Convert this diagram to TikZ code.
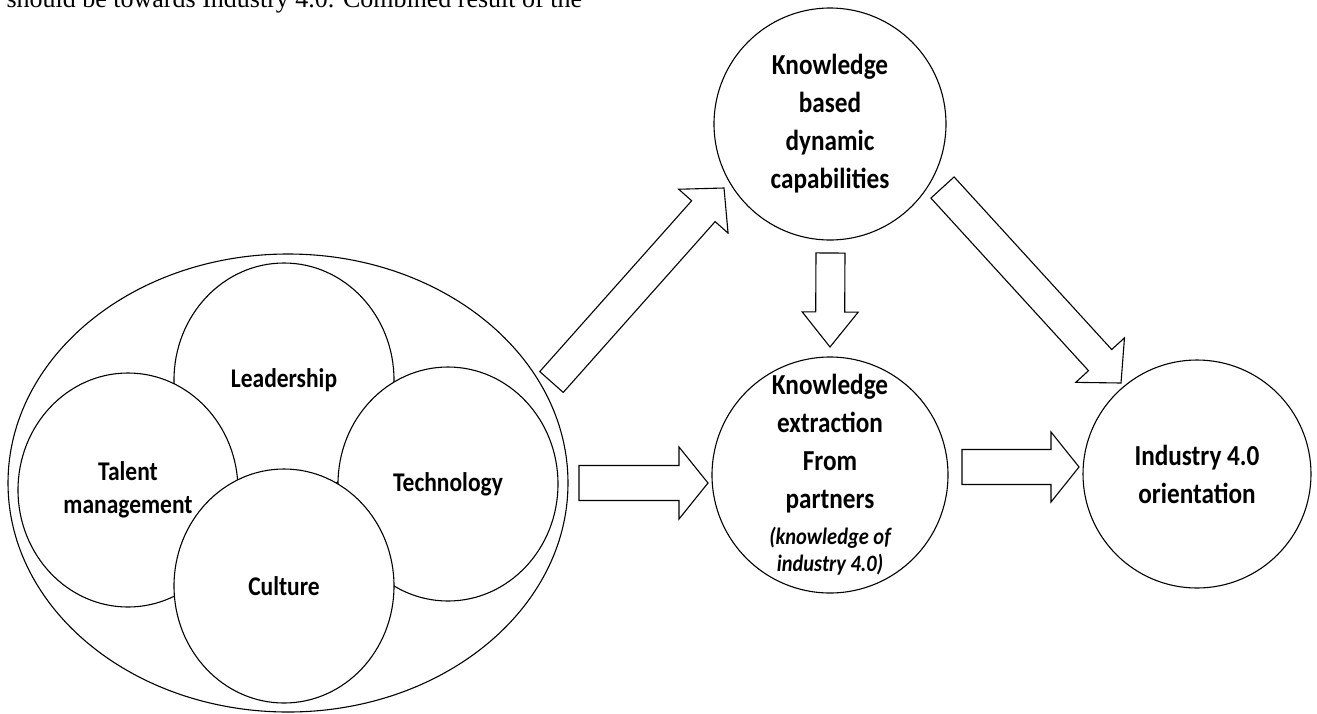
\documentclass[tikz,border=0pt]{standalone}
\usepackage{fontspec}
\setmainfont{Carlito}
\newfontfamily\labfont{Carlito}[FakeStretch=0.87]
\newfontfamily\serifff{Liberation Serif}
\usetikzlibrary{calc,shapes.geometric}
\tikzset{
  circ/.style={draw, circle, inner sep=0pt, align=center,
    font=\labfont\bfseries\fontsize{29}{38}\selectfont},
  innerc/.style={draw, ellipse, fill=white, inner sep=0pt,
    minimum width=220pt, minimum height=234pt, align=center,
    font=\labfont\bfseries\fontsize{27}{33}\selectfont},
  blockarr/.style={draw, fill=white, line join=miter},
}
% tail, tip, half shaft width, half head width, head length
\newcommand\blockarrow[5]{%
  \path ($(#2)!#5!(#1)$) coordinate (neck);
  \draw[blockarr] ($(#1)!#3!90:(#2)$) -- ($(neck)!#3!-90:(#1)$)
    -- ($(neck)!#4!-90:(#1)$) -- (#2) -- ($(neck)!#4!90:(#1)$)
    -- ($(neck)!#3!90:(#1)$) -- ($(#1)!#3!-90:(#2)$) -- cycle;
}
\begin{document}
\begin{tikzpicture}[x=1pt,y=-1pt,line width=1.1pt]
\useasboundingbox (0,0) rectangle (1317,713);
\clip (0,0) rectangle (1317,713);
\fill[white] (0,0) rectangle (1317,713);

\node[anchor=base west, inner sep=0pt, font=\serifff\fontsize{26}{30}\selectfont]
  (cap) at (6,7.5) {should be towards Industry 4.0. Combined result of the};

% left cluster
\node[draw, ellipse, minimum width=560pt, minimum height=458pt, inner sep=0pt] (org) at (288,483) {};
\node[innerc] (lead) at (284,380) {Leadership};
\node[innerc] (tal) at (128,490) {Talent\\management};
\node[innerc] (tech) at (448,484) {Technology};
\node[innerc] (cult) at (284,586) {Culture};

% right circles
\node[circ, minimum size=232pt] (kb) at (830,124) {Knowledge\\based\\dynamic\\capabilities};
\node[circ, minimum size=236pt] (ke) at (830,475) {Knowledge\\extraction\\From\\partners\\[-2pt]{\itshape\fontsize{23.5}{27}\selectfont (knowledge of}\\[-11pt]{\itshape\fontsize{23.5}{27}\selectfont industry 4.0)}};
\node[circ, minimum size=228pt] (io) at (1197,474) {Industry 4.0\\orientation};

% arrows
\coordinate (a1t) at (551.5,382); \coordinate (a1h) at (724,188);
\coordinate (a2t) at (579,483);   \coordinate (a2h) at (708,483);
\coordinate (a3t) at (830.5,253); \coordinate (a3h) at (830,347);
\coordinate (a4t) at (962,467);   \coordinate (a4h) at (1079,467);
\coordinate (a5t) at (942.5,187.5); \coordinate (a5h) at (1121,383);
\blockarrow{a1t}{a1h}{15.7pt}{33pt}{31pt}
\blockarrow{a2t}{a2h}{17.5pt}{36pt}{29pt}
\blockarrow{a3t}{a3h}{14.5pt}{28pt}{35pt}
\blockarrow{a4t}{a4h}{17.5pt}{35pt}{28pt}
\blockarrow{a5t}{a5h}{15.7pt}{33pt}{31pt}
\end{tikzpicture}
\end{document}
